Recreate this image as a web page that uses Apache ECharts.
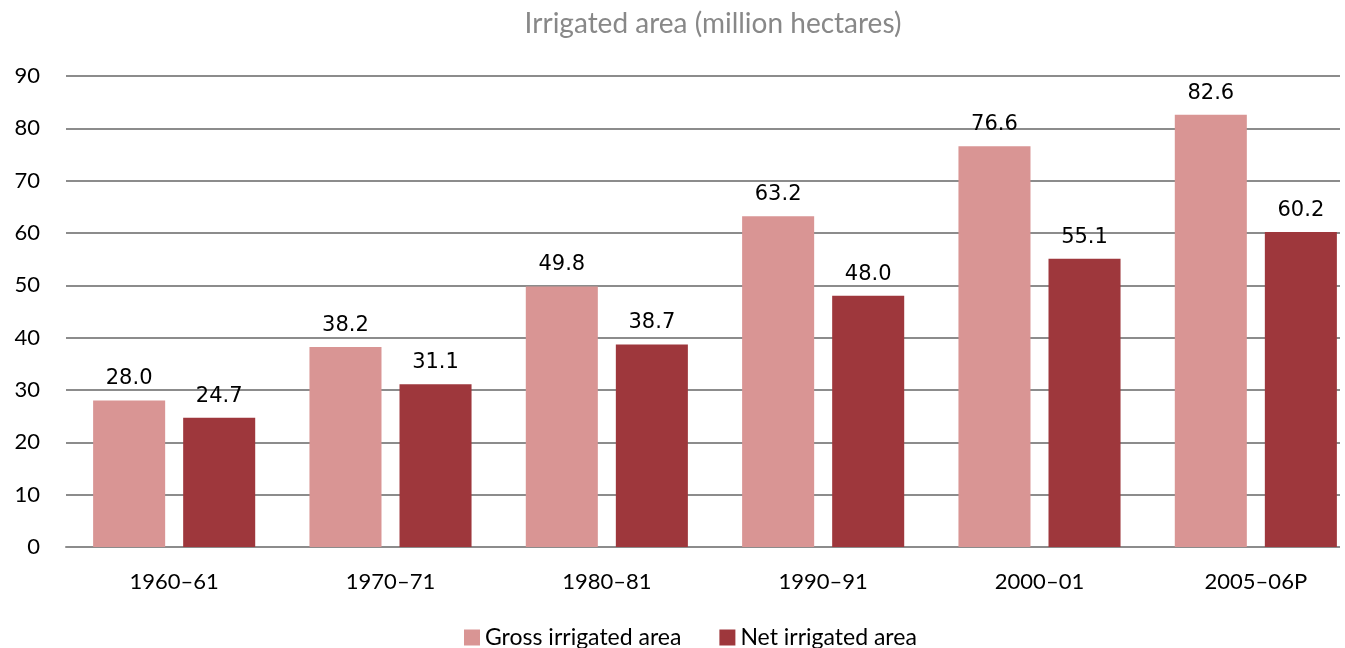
<!DOCTYPE html>
<html><head><meta charset="utf-8">
<script src="https://cdn.jsdelivr.net/npm/echarts@6/dist/echarts.min.js"></script>
<style>html,body{margin:0;padding:0;background:#fff;overflow:hidden}#c{width:1345px;height:648px}</style>
</head><body><div id="c"></div>
<script>
const categories = ['1960–61','1970–71','1980–81','1990–91','2000–01','2005–06P'];
const grossIrrigated = [28.0, 38.2, 49.8, 63.2, 76.6, 82.6];
const netIrrigated = [24.7, 31.1, 38.7, 48.0, 55.1, 60.2];
const yTicks = [0,10,20,30,40,50,60,70,80,90];

const uiFont = 'Lato, "Open Sans", sans-serif';
const chart = echarts.init(document.getElementById('c'));
const labelCfg = {show:true, position:'top', distance:11, color:'#000', fontFamily:'"DejaVu Sans", sans-serif', fontSize:21, formatter: p => p.value.toFixed(1)};
chart.setOption({
  animation:false,
  title:{text:'Irrigated area (million hectares)', left:708, textAlign:'center', top:5, textStyle:{color:'#888', fontFamily:uiFont, fontWeight:'normal', fontSize:28}},
  legend:{bottom:-6, left:459, itemWidth:16, itemHeight:16, itemGap:38, icon:'rect', textStyle:{color:'#000', fontFamily:uiFont, fontSize:23}},
  grid:{left:66, width:1298, top:76, bottom:101, containLabel:false, outerBoundsMode:'none'},
  xAxis:{type:'category', data:categories, axisTick:{show:false}, axisLine:{lineStyle:{color:'#8c8c8c', width:2}},
    axisLabel:{color:'#000', fontFamily:uiFont, fontSize:22, margin:24}},
  yAxis:{type:'value', min:0, max:90, interval:10, axisLine:{show:false}, axisTick:{show:false},
    splitLine:{lineStyle:{color:'#8c8c8c', width:2}},
    axisLabel:{color:'#000', fontFamily:uiFont, fontSize:22, margin:26, formatter: v => yTicks.includes(v) ? String(v) : ''}},
  graphic:[{type:'rect', left:1340, top:60, shape:{width:30, height:500}, style:{fill:'#fff'}, z:1}],
  series:[
    {name:'Gross irrigated area', type:'bar', data:grossIrrigated, barWidth:'33.3%', barGap:'25%', itemStyle:{color:'#D99594'}, label:labelCfg, z:5},
    {name:'Net irrigated area', type:'bar', data:netIrrigated, barWidth:'33.3%', itemStyle:{color:'#9E373C'}, label:labelCfg, z:5}
  ]
});
</script></body></html>
